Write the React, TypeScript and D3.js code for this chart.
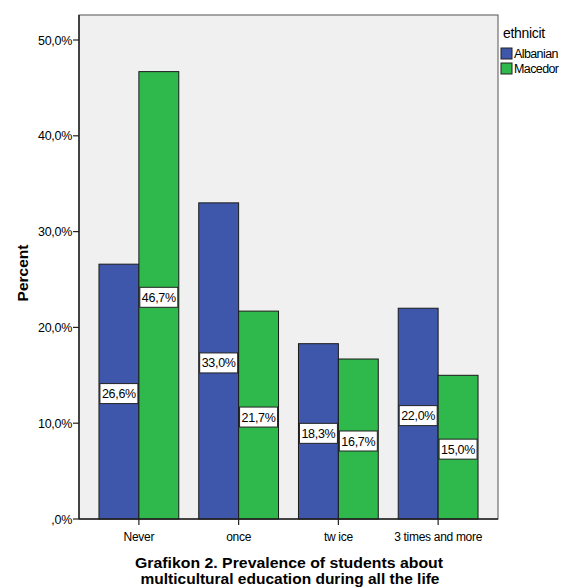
import React from "react";
import * as d3 from "d3";

const categories = ["Never", "once", "twice", "3 times and more"];
const seriesNames = ["Albanian", "Macedor"];
const albanian = [26.6, 33.0, 18.3, 22.0];
const macedor = [46.7, 21.7, 16.7, 15.0];
const yTicks = [0, 10, 20, 30, 40, 50];
const colors = ["#3F57AB", "#2FB84B"];

const fmt = (v: number) => (v === 0 ? ",0%" : v.toFixed(1).replace(".", ",") + "%");

export default function App() {
  const W = 561, H = 588;
  const left = 79, right = 498, top = 15, bottom = 519;
  const y = d3.scaleLinear().domain([0, 50]).range([bottom, 40]);
  const x = d3.scaleBand<string>().domain(categories).range([89, 488]).paddingInner(0.2).paddingOuter(0.1);
  const xs = d3.scaleBand<string>().domain(seriesNames).range([0, x.bandwidth()]);
  const data = [albanian, macedor];
  const font = "Arial, 'Liberation Sans', sans-serif";

  return (
    <svg width={W} height={H} style={{ position: "absolute", left: 0, top: 0 }} fontFamily={font}>
      <rect x={0} y={0} width={W} height={H} fill="#fff" />
      <rect x={left} y={top} width={right - left} height={bottom - top} fill="#F0F0F0" stroke="#555" strokeWidth={1} />
      {categories.map((c, i) =>
        seriesNames.map((s, j) => {
          const v = data[j][i];
          const bx = (x(c) as number) + (xs(s) as number);
          return (
            <rect key={c + s} x={bx} y={y(v)} width={xs.bandwidth()} height={bottom - y(v)}
              fill={colors[j]} stroke="#1a1a1a" strokeWidth={1} />
          );
        })
      )}
      {categories.map((c, i) =>
        seriesNames.map((s, j) => {
          const v = data[j][i];
          const cx = (x(c) as number) + (xs(s) as number) + xs.bandwidth() / 2;
          const cy = (y(v) + bottom) / 2 + 2;
          return (
            <g key={"l" + c + s}>
              <rect x={cx - 19} y={cy - 10} width={38} height={20} fill="#fff" stroke="#222" strokeWidth={1} />
              <text x={cx} y={cy + 4.5} textAnchor="middle" fontSize={12.5} fill="#000" letterSpacing={-0.3}>{fmt(v)}</text>
            </g>
          );
        })
      )}
      <line x1={left} x2={left} y1={top} y2={bottom} stroke="#222" strokeWidth={1.5} />
      <line x1={left} x2={right} y1={bottom} y2={bottom} stroke="#222" strokeWidth={1.5} />
      {yTicks.map((t) => (
        <g key={t}>
          <line x1={left - 6} x2={left} y1={y(t)} y2={y(t)} stroke="#222" strokeWidth={1.2} />
          <text x={left - 7} y={y(t) + 4.5} textAnchor="end" fontSize={12.5} fill="#000" letterSpacing={-0.3}>{fmt(t)}</text>
        </g>
      ))}
      {categories.map((c) => {
        const cx = (x(c) as number) + x.bandwidth() / 2;
        return (
          <g key={"x" + c}>
            <line x1={cx} x2={cx} y1={bottom} y2={bottom + 6} stroke="#222" strokeWidth={1.2} />
            <text x={cx} y={541} textAnchor="middle" fontSize={12} fill="#000" letterSpacing={-0.3}>{c === "twice" ? "tw ice" : c}</text>
          </g>
        );
      })}
      <text transform="translate(28,273) rotate(-90)" textAnchor="middle" fontSize={15.5} fontWeight="bold" fill="#000">Percent</text>
      <text x={503} y={38} fontSize={14} fill="#000" letterSpacing={-0.3}>ethnicit</text>
      {seriesNames.map((s, j) => (
        <g key={"lg" + s}>
          <rect x={501} y={48 + j * 15} width={11} height={11} fill={colors[j]} stroke="#222" strokeWidth={1} />
          <text x={514} y={58 + j * 15} fontSize={12.5} fill="#000" letterSpacing={-0.6}>{s}</text>
        </g>
      ))}
      <text x={289} y={568} textAnchor="middle" fontSize={14.5} fontWeight="bold" fill="#000" textLength={308} lengthAdjust="spacingAndGlyphs">Grafikon 2. Prevalence of students about</text>
      <text x={290} y={584} textAnchor="middle" fontSize={14.5} fontWeight="bold" fill="#000" textLength={299} lengthAdjust="spacingAndGlyphs">multicultural education during all the life</text>
    </svg>
  );
}
